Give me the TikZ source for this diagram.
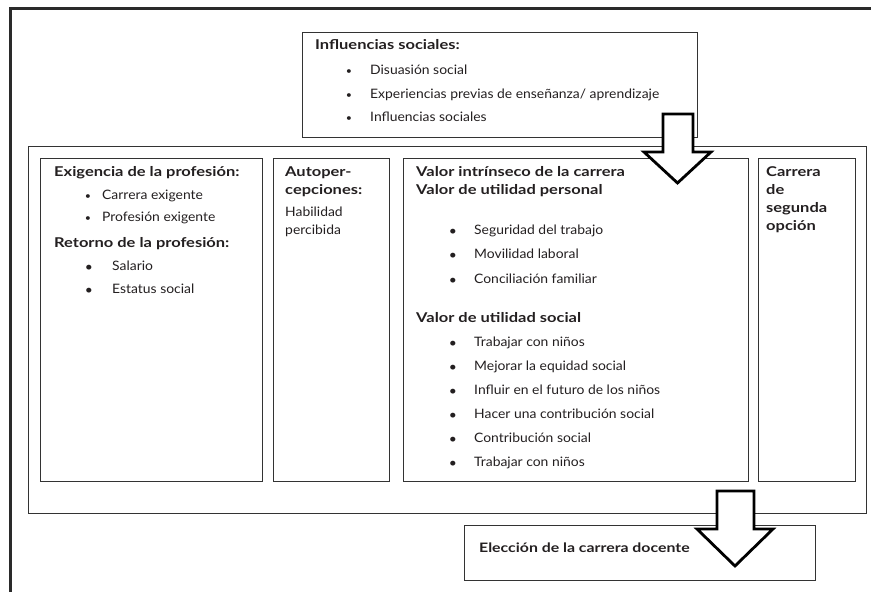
\documentclass[tikz,border=0pt]{standalone}
\usepackage{fontspec}
\setmainfont{Lato}[FakeStretch=1.07]
\newfontfamily\hdfont{Lato}[FakeStretch=1.22]
\definecolor{ink}{HTML}{231F20}
\definecolor{linegray}{HTML}{333333}
\definecolor{framegray}{HTML}{2A2A2A}
\begin{document}
\begin{tikzpicture}[x=1pt,y=-1pt,
  box/.style={draw=linegray, line width=1.3pt, inner sep=0pt, anchor=north west},
  txt/.style={anchor=mid west, inner sep=0pt, text=ink, font=\fontsize{13}{15}\selectfont},
  hd/.style={txt, font=\hdfont\fontsize{13.5}{15}\selectfont\bfseries},
  elhd/.style={txt, font=\hdfont\fontsize{13}{15}\selectfont\bfseries},
  sbul/.style={anchor=center, inner sep=0pt, text=ink, font=\fontsize{10}{11}\selectfont},
  lbul/.style={anchor=center, inner sep=0pt, text=ink, font=\fontsize{13}{14}\selectfont},
  blockarrow/.style={draw=black, line width=2.8pt, fill=white, line join=miter},
  framestyle/.style={draw=framegray, line width=3.8pt}
]
\useasboundingbox (0,0) rectangle (871,592);
% outer frame (top and left only)
\draw[framestyle] (10.5,592) -- (10.5,8.5) -- (871,8.5);

% boxes
\node[box, minimum width=395pt, minimum height=105pt] (topbox) at (302,32) {};
\node[box, minimum width=838pt, minimum height=367pt] (bigbox) at (28,146) {};
\node[box, minimum width=222pt, minimum height=323pt] (b1) at (40,158) {};
\node[box, minimum width=116pt, minimum height=323pt] (b2) at (273,158) {};
\node[box, minimum width=345pt, minimum height=323pt] (b3) at (403,158) {};
\node[box, minimum width=97pt, minimum height=323pt] (b4) at (758,158) {};
\node[box, minimum width=351pt, minimum height=55pt] (elec) at (464,525) {};

% top box text
\node[hd] (t0) at (315,47) {Influencias sociales:};
\node[sbul] (t1b) at (349,72) {•};
\node[txt] (t1) at (370,72) {Disuasión social};
\node[sbul] (t2b) at (349,96) {•};
\node[txt] (t2) at (370,96) {Experiencias previas de enseñanza/ aprendizaje};
\node[sbul] (t3b) at (349,119) {•};
\node[txt] (t3) at (370,119) {Influencias sociales};

% box 1
\node[hd] (e0) at (54,174) {Exigencia de la profesión:};
\node[sbul] (e1b) at (88,197) {•};
\node[txt] (e1) at (102,197) {Carrera exigente};
\node[sbul] (e2b) at (88,219) {•};
\node[txt] (e2) at (102,219) {Profesión exigente};
\node[hd] (r0) at (54,245) {Retorno de la profesión:};
\node[lbul] (r1b) at (89,268) {•};
\node[txt] (r1) at (112,268) {Salario};
\node[lbul] (r2b) at (89,291) {•};
\node[txt] (r2) at (112,291) {Estatus social};

% box 2
\node[hd] (a0) at (285,174) {Autoper-};
\node[hd] (a1) at (285,192) {cepciones:};
\node[txt] (a2) at (285,214) {Habilidad};
\node[txt] (a3) at (285,232) {percibida};

% box 3
\node[hd] (v0) at (416,174) {Valor intrínseco de la carrera};
\node[hd] (v1) at (416,192) {Valor de utilidad personal};
\node[lbul] (p1b) at (453,232) {•};
\node[txt] (p1) at (474,232) {Seguridad del trabajo};
\node[lbul] (p2b) at (453,256) {•};
\node[txt] (p2) at (474,256) {Movilidad laboral};
\node[lbul] (p3b) at (453,281) {•};
\node[txt] (p3) at (474,281) {Conciliación familiar};
\node[hd] (s0) at (416,320) {Valor de utilidad social};
\node[lbul] (s1b) at (453,344) {•};
\node[txt] (s1) at (474,344) {Trabajar con niños};
\node[lbul] (s2b) at (453,368) {•};
\node[txt] (s2) at (474,368) {Mejorar la equidad social};
\node[lbul] (s3b) at (453,392) {•};
\node[txt] (s3) at (474,392) {Influir en el futuro de los niños};
\node[lbul] (s4b) at (453,416) {•};
\node[txt] (s4) at (474,416) {Hacer una contribución social};
\node[lbul] (s5b) at (453,440) {•};
\node[txt] (s5) at (474,440) {Contribución social};
\node[lbul] (s6b) at (453,464) {•};
\node[txt] (s6) at (474,464) {Trabajar con niños};

% box 4
\node[hd] (c0) at (766,174) {Carrera};
\node[hd] (c1) at (766,192) {de};
\node[hd] (c2) at (766,210) {segunda};
\node[hd] (c3) at (766,228) {opción};

% election box
\node[elhd] (el) at (479,550) {Elección de la carrera docente};

% block arrows
\draw[blockarrow] (663,114) -- (693,114) -- (693,152) -- (711,152) -- (677.5,183) -- (644,152) -- (663,152) -- cycle;
\draw[blockarrow] (717,491) -- (754,491) -- (754,529) -- (773,529) -- (735,566) -- (697,529) -- (717,529) -- cycle;
\end{tikzpicture}
\end{document}
